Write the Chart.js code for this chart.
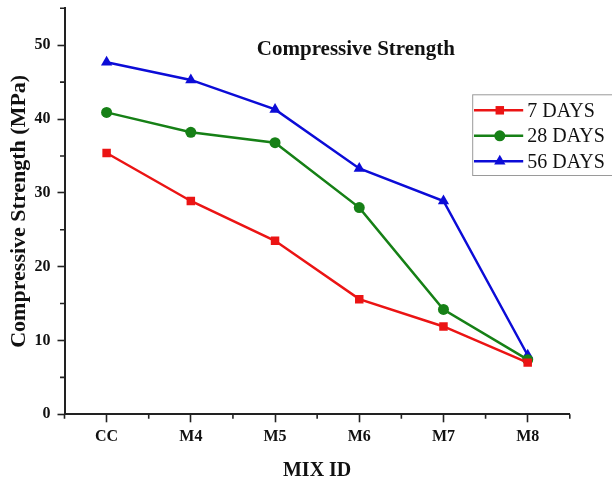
<!DOCTYPE html>
<html lang="en">
<head>
  <meta charset="UTF-8" />
  <title>Compressive Strength</title>
  <script src="https://cdn.jsdelivr.net/npm/chart.js@4"></script>
  <style>
    html, body { margin: 0; padding: 0; background: #fff; }
    #wrap { width: 612px; height: 481px; }
  </style>
</head>
<body>
  <div id="wrap"><canvas id="strengthChart" width="612" height="481"></canvas></div>

<script>
  // values (MPa)
  const mixIds = ["CC", "M4", "M5", "M6", "M7", "M8"];
  const days7 = [35.4, 28.9, 23.5, 15.6, 11.9, 7.0];
  const days28 = [40.9, 38.2, 36.8, 28.0, 14.2, 7.4];
  const days56 = [47.7, 45.3, 41.3, 33.3, 28.9, 8.0];
  const seriesNames = ["7 DAYS", "28 DAYS", "56 DAYS"];
  const yTickStep = 5;
  const yMax = 55;

  const serif = "'Liberation Serif', 'Times New Roman', serif";
  const axisColor = "#222";
  const colors = ["rgb(235,20,20)", "rgb(22,128,22)", "rgb(12,12,215)"];
  const shapes = ["rect", "circle", "triangle"];
  const radii = [6, 5.5, 6.5];

  const toPoints = vals => vals.map((v, i) => ({ x: i, y: v }));

  function drawMarker(ctx, shape, x, y, r, color) {
    ctx.save();
    ctx.fillStyle = color;
    ctx.beginPath();
    if (shape === "rect") {
      const s = r * Math.SQRT1_2;
      ctx.rect(x - s, y - s, 2 * s, 2 * s);
    } else if (shape === "circle") {
      ctx.arc(x, y, r, 0, Math.PI * 2);
    } else {
      ctx.moveTo(x, y - r);
      ctx.lineTo(x + r * 0.87, y + r * 0.5);
      ctx.lineTo(x - r * 0.87, y + r * 0.5);
      ctx.closePath();
    }
    ctx.fill();
    ctx.restore();
  }

  // small ticks between the labelled ones
  const minorTicks = {
    id: "minorTicks",
    afterDraw(chart) {
      const { ctx, scales: { x, y } } = chart;
      ctx.save();
      ctx.strokeStyle = axisColor;
      ctx.lineWidth = 1.6;
      ctx.beginPath();
      x.ticks.forEach(t => {
        if (!Number.isInteger(t.value)) {
          const px = x.getPixelForValue(t.value);
          ctx.moveTo(px, y.bottom);
          ctx.lineTo(px, y.bottom + 4.5);
        }
      });
      y.ticks.forEach(t => {
        if (t.value % 10 !== 0) {
          const py = y.getPixelForValue(t.value);
          ctx.moveTo(x.left, py);
          ctx.lineTo(x.left - 4.5, py);
        }
      });
      ctx.stroke();
      ctx.restore();
    }
  };

  // title placed inside the plot area
  const innerTitle = {
    id: "innerTitle",
    afterDraw(chart) {
      const { ctx, scales: { x, y } } = chart;
      ctx.save();
      ctx.font = "bold 21px " + serif;
      ctx.fillStyle = "#111";
      ctx.textAlign = "center";
      ctx.textBaseline = "middle";
      ctx.fillText("Compressive Strength", x.getPixelForValue(2.96), y.getPixelForValue(49.4));
      ctx.restore();
    }
  };

  // boxed legend at the right edge
  const boxLegend = {
    id: "boxLegend",
    afterDraw(chart) {
      const { ctx, chartArea } = chart;
      const left = chartArea.right - 97.6;
      const top = chartArea.top + 86;
      ctx.save();
      ctx.fillStyle = "#fff";
      ctx.fillRect(left, top, 150, 80.7);
      ctx.strokeStyle = "#9a9a9a";
      ctx.lineWidth = 1;
      ctx.strokeRect(left + 0.5, top + 0.5, 150, 80.7);
      ctx.font = "20px " + serif;
      ctx.textBaseline = "middle";
      chart.data.datasets.forEach((ds, i) => {
        const cy = top + 16 + i * 25.5;
        ctx.strokeStyle = ds.borderColor;
        ctx.lineWidth = 2.5;
        ctx.beginPath();
        ctx.moveTo(left + 1.8, cy);
        ctx.lineTo(left + 51, cy);
        ctx.stroke();
        drawMarker(ctx, ds.pointStyle, left + 27.6, cy, ds.pointRadius, ds.borderColor);
        ctx.fillStyle = "#111";
        ctx.fillText(ds.label, left + 55, cy + 1);
      });
      ctx.restore();
    }
  };

  const seriesValues = [days7, days28, days56];

  new Chart(document.getElementById("strengthChart"), {
    type: "line",
    data: {
      datasets: seriesValues.map((vals, i) => ({
        label: seriesNames[i],
        data: toPoints(vals),
        borderColor: colors[i],
        backgroundColor: colors[i],
        borderWidth: 2.5,
        pointStyle: shapes[i],
        pointRadius: radii[i],
        pointBorderWidth: 0,
        tension: 0,
        fill: false
      }))
    },
    options: {
      responsive: false,
      animation: false,
      layout: { padding: { top: 8.3, right: 42.2, bottom: 0, left: 0 } },
      plugins: {
        legend: { display: false },
        tooltip: { enabled: false }
      },
      scales: {
        x: {
          type: "linear",
          min: -0.5,
          max: 5.5,
          afterBuildTicks: scale => {
            scale.ticks = [];
            for (let k = 0; k <= 12; k++) scale.ticks.push({ value: -0.5 + k * 0.5 });
          },
          afterFit: scale => {
            scale.height = 66.7;
            scale.paddingLeft = 0;
            scale.paddingRight = 0;
          },
          ticks: {
            autoSkip: false,
            maxRotation: 0,
            padding: 5,
            color: "#111",
            font: { family: serif, size: 16, weight: "bold" },
            callback: v => Number.isInteger(v) ? mixIds[v] : ""
          },
          grid: {
            drawOnChartArea: false,
            tickLength: 8,
            tickWidth: 1.6,
            tickColor: c => Number.isInteger(c.tick && c.tick.value) ? axisColor : "rgba(0,0,0,0)"
          },
          border: { color: axisColor, width: 2 },
          title: {
            display: true,
            text: "MIX ID",
            color: "#111",
            font: { family: serif, size: 20, weight: "bold" },
            padding: { top: 6, bottom: -2 }
          }
        },
        y: {
          min: 0,
          max: yMax,
          afterBuildTicks: scale => {
            scale.ticks = [];
            for (let v = 0; v <= yMax; v += yTickStep) scale.ticks.push({ value: v });
          },
          afterFit: scale => {
            scale.width = 64.5;
            scale.paddingTop = 0;
            scale.paddingBottom = 0;
          },
          ticks: {
            autoSkip: false,
            padding: 7,
            color: "#111",
            font: { family: serif, size: 16, weight: "bold" },
            callback: v => v % 10 === 0 ? String(v) : ""
          },
          grid: {
            drawOnChartArea: false,
            tickLength: 7,
            tickWidth: 1.6,
            tickColor: c => (c.tick && c.tick.value % 10 === 0) ? axisColor : "rgba(0,0,0,0)"
          },
          border: { color: axisColor, width: 2 },
          title: {
            display: true,
            text: "Compressive Strength (MPa)",
            color: "#111",
            font: { family: serif, size: 22, weight: "bold" },
            padding: { top: 6.5, bottom: 0 }
          }
        }
      }
    },
    plugins: [minorTicks, innerTitle, boxLegend]
  });
</script>
</body>
</html>
